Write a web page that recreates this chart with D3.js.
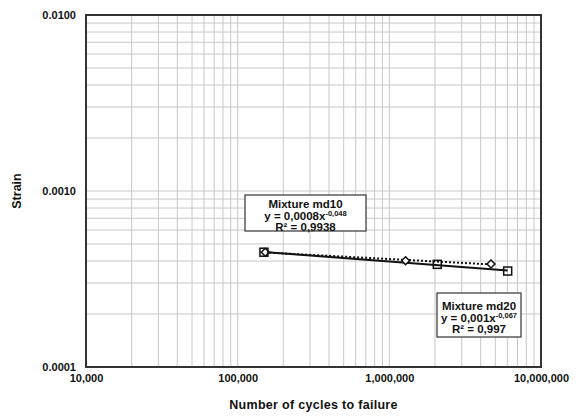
<!DOCTYPE html>
<html>
  <head>
    <meta charset="utf-8">
    <title>Strain vs cycles</title>
    <script type="text/javascript" src="https://cdn.jsdelivr.net/npm/d3@7"></script>
    <style>
      body { margin: 0; background: #fff; }
      text { font-family: "Liberation Sans", Arial, sans-serif; font-weight: bold; fill: #111; }
    </style>
  </head>
  <body>
<script type="text/javascript">
var w = 579;
var h = 416;

// data
var md10Cycles = [152000, 1280000, 4680000];
var md10Strain = [0.000449, 0.000402, 0.000385];
var md20Cycles = [149000, 2070000, 6030000];
var md20Strain = [0.000449, 0.000383, 0.000351];
var xTicks = [1e4, 1e5, 1e6, 1e7];
var yTicks = [0.0001, 0.001, 0.01];
var md10Label = ["Mixture md10", "y = 0,0008x", "-0,048", "R\u00b2 = 0,9938"];
var md20Label = ["Mixture md20", "y = 0,001x", "-0,067", "R\u00b2 = 0,997"];

var pLeft = 86, pRight = 541, pTop = 15, pBottom = 367;

var svg = d3.select("body")
            .append("svg")
            .attr("width", w)
            .attr("height", h);

var Xscale = d3.scaleLog().domain([1e4, 1e7]).range([pLeft, pRight]);
var Yscale = d3.scaleLog().domain([1e-4, 1e-2]).range([pBottom, pTop]);

// minor + major grid
var xGrid = [], yGrid = [];
for (var e = 4; e < 7; e++) {
  for (var m = 1; m < 10; m++) xGrid.push(m * Math.pow(10, e));
}
for (var e2 = -4; e2 < -2; e2++) {
  for (var m2 = 1; m2 < 10; m2++) yGrid.push(m2 * Math.pow(10, e2));
}

svg.append("g").selectAll("line")
   .data(xGrid)
   .enter().append("line")
   .attr("x1", function(d){ return Xscale(d); })
   .attr("x2", function(d){ return Xscale(d); })
   .attr("y1", pTop).attr("y2", pBottom)
   .attr("stroke", "#c8c8c8").attr("stroke-width", 1);

svg.append("g").selectAll("line")
   .data(yGrid)
   .enter().append("line")
   .attr("y1", function(d){ return Yscale(d); })
   .attr("y2", function(d){ return Yscale(d); })
   .attr("x1", pLeft).attr("x2", pRight)
   .attr("stroke", "#c8c8c8").attr("stroke-width", 1);

svg.append("rect")
   .attr("x", pLeft).attr("y", pTop)
   .attr("width", pRight - pLeft).attr("height", pBottom - pTop)
   .attr("fill", "none").attr("stroke", "#333").attr("stroke-width", 2);

// axes (labels only)
var xAxis = d3.axisBottom(Xscale).tickValues(xTicks).tickFormat(d3.format(",")).tickSize(0).tickPadding(7);
var yAxis = d3.axisLeft(Yscale).tickValues(yTicks).tickFormat(d3.format(".4f")).tickSize(0).tickPadding(10);

var gx = svg.append("g").attr("transform", "translate(0," + pBottom + ")").call(xAxis);
var gy = svg.append("g").attr("transform", "translate(" + pLeft + ",0)").call(yAxis);
[gx, gy].forEach(function(g){
  g.select(".domain").remove();
  g.selectAll("text").attr("font-size", 11).attr("font-family", "Liberation Sans, Arial, sans-serif")
   .attr("font-weight", "bold").attr("fill", "#111");
});

svg.append("text")
   .attr("x", (pLeft + pRight) / 2).attr("y", 409)
   .attr("text-anchor", "middle").attr("font-size", 12.5)
   .attr("letter-spacing", 0.3)
   .text("Number of cycles to failure");

svg.append("text")
   .attr("transform", "translate(21," + ((pTop + pBottom) / 2) + ") rotate(-90)")
   .attr("text-anchor", "middle").attr("font-size", 12.5)
   .text("Strain");

// power trendline fitted in log space over the series' own range
function trend(xs, ys) {
  var lx = xs.map(Math.log10), ly = ys.map(Math.log10);
  var mx = d3.mean(lx), my = d3.mean(ly);
  var b = d3.sum(lx, function(v, i){ return (v - mx) * (ly[i] - my); }) /
          d3.sum(lx, function(v){ return (v - mx) * (v - mx); });
  var a = my - b * mx;
  var x0 = d3.min(xs), x1 = d3.max(xs);
  return [[x0, Math.pow(10, a + b * Math.log10(x0))], [x1, Math.pow(10, a + b * Math.log10(x1))]];
}

var line = d3.line()
             .x(function(d){ return Xscale(d[0]); })
             .y(function(d){ return Yscale(d[1]); });

svg.append("path")
   .datum(trend(md10Cycles, md10Strain))
   .attr("d", line).attr("fill", "none")
   .attr("stroke", "#111").attr("stroke-width", 2).attr("stroke-dasharray", "2,2");

svg.append("path")
   .datum(trend(md20Cycles, md20Strain))
   .attr("d", line).attr("fill", "none")
   .attr("stroke", "#111").attr("stroke-width", 2);

// markers
svg.append("g").selectAll("path")
   .data(d3.zip(md10Cycles, md10Strain))
   .enter().append("path")
   .attr("transform", function(d){ return "translate(" + Xscale(d[0]) + "," + Yscale(d[1]) + ")"; })
   .attr("d", d3.symbol().type(d3.symbolDiamond2).size(40)())
   .attr("fill", "#fff").attr("stroke", "#111").attr("stroke-width", 1.5);

svg.append("g").selectAll("rect")
   .data(d3.zip(md20Cycles, md20Strain))
   .enter().append("rect")
   .attr("x", function(d){ return Xscale(d[0]) - 4; })
   .attr("y", function(d){ return Yscale(d[1]) - 4; })
   .attr("width", 8).attr("height", 8)
   .attr("fill", "none").attr("stroke", "#111").attr("stroke-width", 1.5);

// equation boxes
function labelBox(lbl, x, y, bw, bh) {
  var g = svg.append("g").attr("transform", "translate(" + x + "," + y + ")");
  g.append("rect").attr("width", bw).attr("height", bh)
   .attr("fill", "#fff").attr("stroke", "#333").attr("stroke-width", 1.2);
  var dy = (bh - 36) / 2;
  g.append("text").attr("x", bw / 2).attr("y", dy + 13).attr("text-anchor", "middle")
   .attr("font-size", 11.5).text(lbl[0]);
  var t = g.append("text").attr("x", bw / 2).attr("y", dy + 25).attr("text-anchor", "middle")
   .attr("font-size", 11.5);
  t.append("tspan").text(lbl[1]);
  t.append("tspan").attr("dy", -4).attr("font-size", 7.5).text(lbl[2]);
  g.append("text").attr("x", bw / 2).attr("y", dy + 36).attr("text-anchor", "middle")
   .attr("font-size", 11.5).text(lbl[3]);
}
labelBox(md10Label, 245, 195, 121, 36);
labelBox(md20Label, 437, 293, 84, 44);
</script>
  </body>
</html>
